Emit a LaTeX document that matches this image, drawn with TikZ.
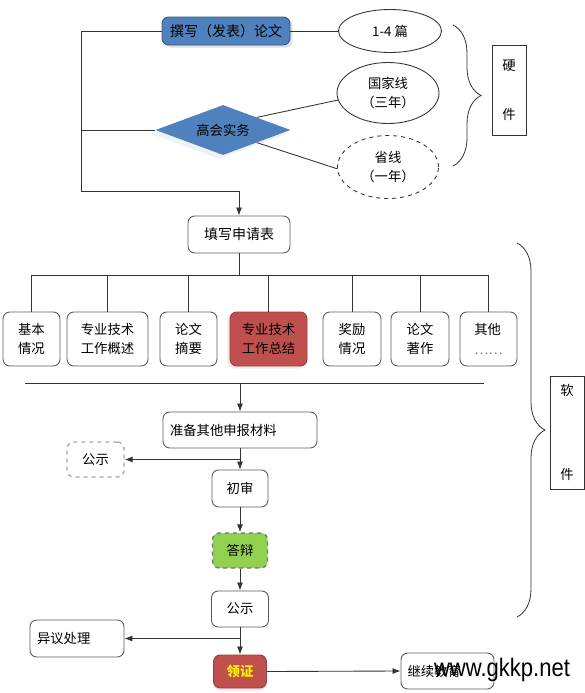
\documentclass[tikz,border=0pt]{standalone}
\usepackage{fontspec}
\setmainfont{Noto Sans CJK SC}
\newfontfamily\wmfont{Liberation Sans}
\usetikzlibrary{shapes.geometric,arrows.meta,decorations.pathreplacing,shadows,calc}
\definecolor{boxblue}{HTML}{4F81BD}
\definecolor{boxred}{HTML}{C0504D}
\definecolor{boxgreen}{HTML}{92D050}
\definecolor{dashpurple}{HTML}{A3A0C8}
\definecolor{linegray}{HTML}{333333}
\begin{document}
\begin{tikzpicture}[x=0.75pt,y=-0.75pt,
  every node/.style={font=\fontsize{10}{14.5}\selectfont},
  conn/.style={draw=linegray, line width=0.65pt},
  arr/.style={conn, -{Latex[length=6pt,width=4.5pt]}},
  sz/.style 2 args={minimum width=#1*0.75pt, minimum height=#2*0.75pt},
  rbox/.style={draw=linegray!80, line width=0.7pt, rounded corners=5pt, fill=white, inner sep=3pt, align=left},
  ell/.style={ellipse, draw=linegray, line width=0.65pt, inner sep=0pt, align=center},
  sidebox/.style={draw=linegray, line width=0.65pt, fill=white, inner sep=0pt, align=center},
  bracestyle/.style={draw=linegray, line width=0.6pt, decorate, decoration={brace, amplitude=#1*0.75pt}},
]
\useasboundingbox (0,0) rectangle (585,693);
\fill[white] (0,0) rectangle (585,693);

% ---------- hardware part ----------
\node[rbox, fill=boxblue, draw=boxblue!70!black, sz={128}{28}, align=center,
      font=\fontsize{10.5}{12}\selectfont,
      drop shadow={shadow xshift=2pt, shadow yshift=-2pt, fill=gray!45}] (write) at (226,31) {撰写（发表）论文};
\node[ell, sz={103}{43}] (e1) at (390,31) {1-4 篇};
\node[diamond, aspect=2.7, fill=boxblue, inner sep=0pt, sz={135}{50},
      drop shadow={shadow xshift=-3pt, shadow yshift=-3pt, fill=boxblue!20}] (gao) at (223,130) {高会实务};
\node[ell, sz={102}{61}] (e2) at (388,93) {国家线\\（三年）};
\node[ell, dashed, sz={101}{63}] (e3) at (388,167) {省线\\（一年）};

\draw[conn] (write.east) -- (e1.west);
\draw[conn] (gao.north east) -- (e2.188);
\draw[conn] (gao.south east) -- (e3.182);

\coordinate (braceTop) at (453,25);
\coordinate (braceBot) at (453,166);
\draw[bracestyle=28] (braceTop) -- (braceBot);
\node[sidebox, sz={34}{90}] (hard) at (509,90) {硬\\[22pt]件};

% left trunk
\node[rbox, sz={102}{37}, align=center, font=\fontsize{10.5}{12}\selectfont] (fill) at (239,234.5) {填写申请表};
\coordinate (trunkBot) at (81,191);
\draw[arr] (write.west) -| (trunkBot) -| (fill.north);
\draw[conn] (gao.west) -- (gao.west -| trunkBot);

% ---------- application form items ----------
\node[rbox, sz={57}{54}] (c1) at (31.5,339) {基本\\情况};
\node[rbox, sz={81}{54}] (c2) at (107.5,339) {专业技术\\工作概述};
\node[rbox, sz={57}{54}] (c3) at (188.5,339) {论文\\摘要};
\node[rbox, sz={77}{54}, fill=boxred, draw=boxred!80!black,
      drop shadow={shadow xshift=-2pt, shadow yshift=-2pt, fill=boxred!25}] (c4) at (268.5,339) {专业技术\\工作总结};
\node[rbox, sz={58}{54}] (c5) at (352,339) {奖励\\情况};
\node[rbox, sz={58}{54}] (c6) at (420,339) {论文\\著作};
\node[rbox, sz={57}{54}] (c7) at (488.5,339) {其他\\{\color{gray}……}};

\coordinate (bus) at (239,275);
\draw[conn] (fill.south) -- (bus);
\draw[conn] (c1.north |- bus) -- (c7.north |- bus);
\foreach \c in {c1,c2,c3,c4,c5,c6,c7}
  \draw[conn] (\c.north |- bus) -- (\c.north);

\coordinate (sepL) at (25,383);
\coordinate (sepR) at (484,383);
\draw[conn] (sepL) -- (sepR);

% ---------- process ----------
\node[rbox, sz={154}{36}, text width=140*0.75pt] (prep) at (240,430) {准备其他申报材料};
\draw[arr] (sepL -| prep.north) -- (prep.north);
\node[rbox, sz={56}{37}, align=center] (chu) at (240,488.5) {初审};
\node[rbox, sz={57}{35}, align=center, draw=dashpurple, dashed, line width=1pt] (gs1) at (95.5,459.5) {公示};
\draw[arr] (prep.south) -- (chu.north);
\draw[arr] (gs1.east -| prep.south) -- (gs1.east);

\node[rbox, sz={55}{35}, align=center, fill=boxgreen, draw=black!55, dashed, line width=1pt] (dab) at (240,550.5) {答辩};
\draw[arr] (chu.south) -- (dab.north);

\node[rbox, sz={57}{36}, align=center] (gs2) at (240,609) {公示};
\draw[arr] (dab.south) -- (gs2.north);

\node[rbox, sz={94}{37}, text width=80*0.75pt] (yiyi) at (77,638.5) {异议处理};
\node[rbox, sz={53}{33}, align=center, fill=boxred, draw=boxred!80!black,
      text=yellow, font=\bfseries\fontsize{10}{12}\selectfont,
      drop shadow={shadow xshift=0pt, shadow yshift=-2pt, fill=boxred!25}] (ling) at (240,671.5) {领证};
\draw[arr] (gs2.south) -- (ling.north);
\draw[arr] (yiyi.east -| gs2.south) -- (yiyi.east);

\node[rbox, sz={93}{36}, text width=80*0.75pt] (jixu) at (447.5,671) {继续教育};
\draw[arr] (ling.east) -- (jixu.west);

% software brace
\coordinate (sbTop) at (517,243);
\coordinate (sbBot) at (517,617);
\draw[bracestyle=28] (sbTop) -- (sbBot);
\node[sidebox, sz={34}{113}] (soft) at (567,432.5) {软\\[48pt]件};

% watermark
\node[font=\wmfont\fontsize{19}{19}\selectfont, xscale=0.87, transform shape, inner sep=0pt] (wm) at (502,670) {www.gkkp.net};
\end{tikzpicture}
\end{document}
